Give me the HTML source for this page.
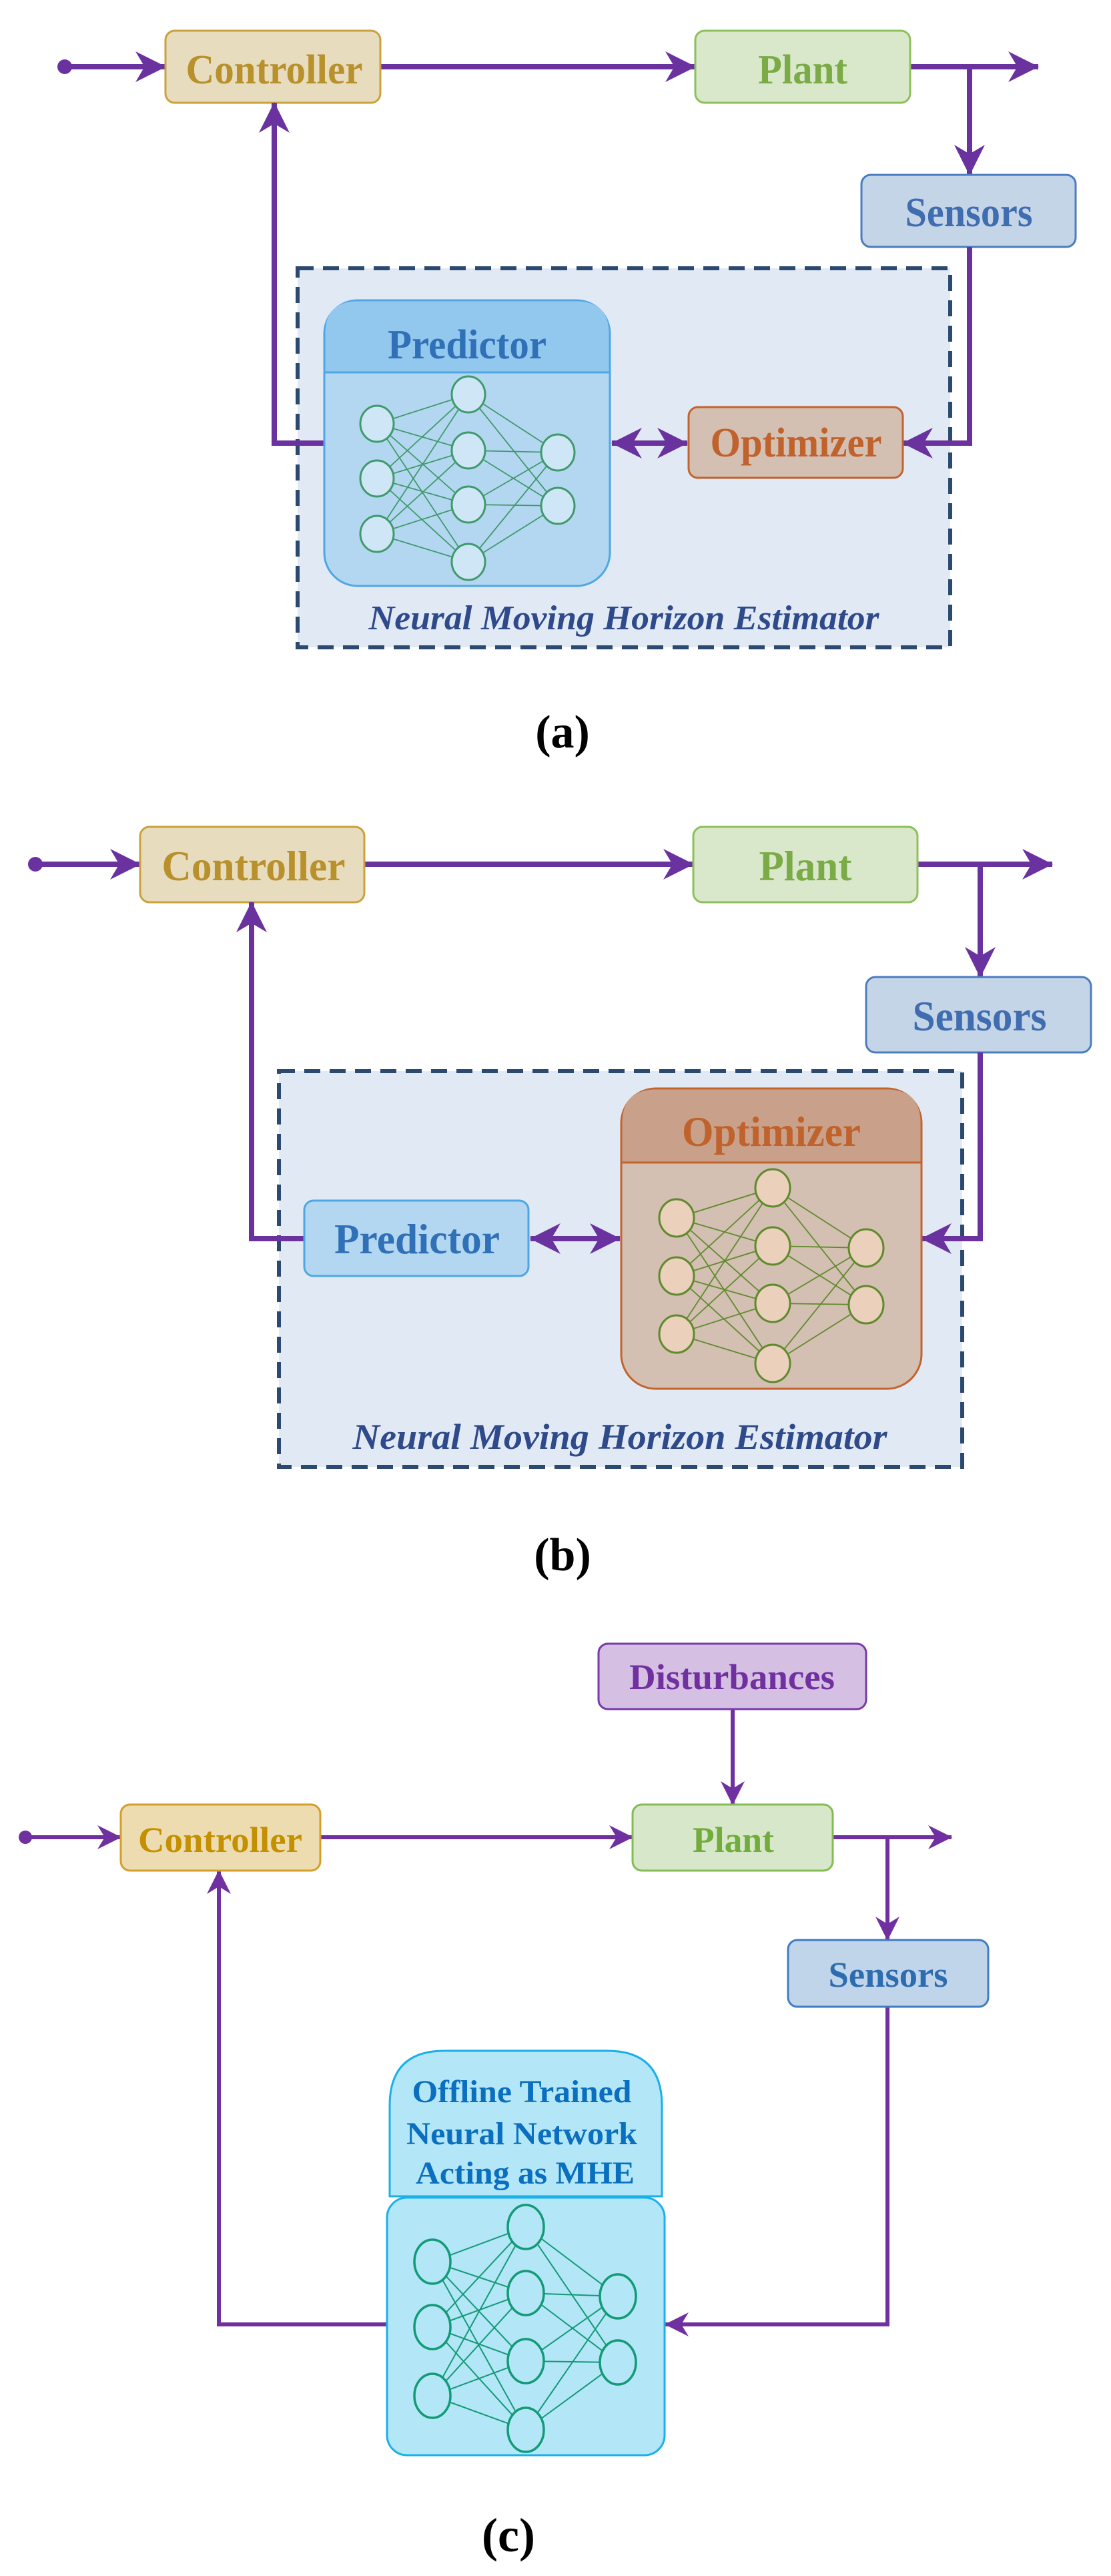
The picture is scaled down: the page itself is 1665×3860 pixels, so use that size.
<!DOCTYPE html>
<html><head><meta charset="utf-8"><style>html,body{margin:0;padding:0;background:#fff}svg{display:block}</style></head>
<body>
<svg width="1665" height="3860" viewBox="0 0 1665 3860" xmlns="http://www.w3.org/2000/svg" font-family="'Liberation Serif',serif" font-weight="bold">
<defs>
<marker id="ar" markerUnits="userSpaceOnUse" markerWidth="46" markerHeight="46" viewBox="0 0 44 44" refX="43" refY="22" orient="auto-start-reverse"><path d="M0,0 L44,22 L0,44 L13,22 Z" fill="#6a329f"/></marker>
<marker id="ar2" markerUnits="userSpaceOnUse" markerWidth="36" markerHeight="36" viewBox="0 0 36 36" refX="35" refY="18" orient="auto-start-reverse"><path d="M0,0 L36,18 L0,36 L11,18 Z" fill="#7030a0"/></marker>
</defs>

<!-- ===== Panel (a) ===== -->
<g stroke="#6a329f" stroke-width="8" fill="none">
<path d="M97,100 H248" marker-end="url(#ar)"/>
<path d="M570,100 H1042" marker-end="url(#ar)"/>
<path d="M1364,100 H1556" marker-end="url(#ar)"/>
<path d="M1453,100 V262" marker-end="url(#ar)"/>
</g>
<circle cx="97" cy="100" r="11" fill="#6a329f"/>
<rect x="248" y="46" width="322" height="108" rx="14" fill="#e8dcbe" stroke="#c9a23c" stroke-width="3"/>
<text x="411" y="125" font-size="62" fill="#b8912c" text-anchor="middle" textLength="265" lengthAdjust="spacingAndGlyphs">Controller</text>
<rect x="1042" y="46" width="322" height="108" rx="14" fill="#d9e8cb" stroke="#8dc05c" stroke-width="3"/>
<text x="1203" y="125" font-size="62" fill="#7aab46" text-anchor="middle" textLength="134" lengthAdjust="spacingAndGlyphs">Plant</text>
<rect x="1291" y="262" width="321" height="108" rx="14" fill="#c5d5e8" stroke="#4a7cc0" stroke-width="3"/>
<text x="1452" y="339" font-size="62" fill="#3f6db0" text-anchor="middle" textLength="191" lengthAdjust="spacingAndGlyphs">Sensors</text>
<rect x="446" y="402" width="978" height="568" fill="#e1eaf4" stroke="#2c4a70" stroke-width="6" stroke-dasharray="24 14"/>
<g stroke="#6a329f" stroke-width="8" fill="none">
<path d="M486,664 H411 V154" marker-end="url(#ar)"/>
<path d="M1453,370 V664 H1353" marker-end="url(#ar)"/>
<path d="M917,664 H1030" marker-start="url(#ar)" marker-end="url(#ar)"/>
</g>
<rect x="486" y="450" width="428" height="428" rx="50" fill="#b4d7f1" stroke="#4ea7e4" stroke-width="3"/>
<path d="M487.5,558 V500 Q487.5,451.5 536,451.5 H864 Q912.5,451.5 912.5,500 V558 Z" fill="#93c8ee"/>
<line x1="486" y1="558" x2="914" y2="558" stroke="#4ea7e4" stroke-width="3"/>
<text x="700" y="537" font-size="62" fill="#2f70b6" text-anchor="middle" textLength="238" lengthAdjust="spacingAndGlyphs">Predictor</text>
<path stroke="#3f9a6c" stroke-width="1.8" fill="none" d="M565,635L702,591M565,635L702,675M565,635L702,756M565,635L702,842M565,717L702,591M565,717L702,675M565,717L702,756M565,717L702,842M565,800L702,591M565,800L702,675M565,800L702,756M565,800L702,842M702,591L836,678M702,591L836,758M702,675L836,678M702,675L836,758M702,756L836,678M702,756L836,758M702,842L836,678M702,842L836,758"/>
<g fill="#cfe6f7" stroke="#3f9a6c" stroke-width="3">
<ellipse cx="565" cy="635" rx="25" ry="27"/><ellipse cx="565" cy="717" rx="25" ry="27"/><ellipse cx="565" cy="800" rx="25" ry="27"/>
<ellipse cx="702" cy="591" rx="25" ry="27"/><ellipse cx="702" cy="675" rx="25" ry="27"/><ellipse cx="702" cy="756" rx="25" ry="27"/><ellipse cx="702" cy="842" rx="25" ry="27"/>
<ellipse cx="836" cy="678" rx="25" ry="27"/><ellipse cx="836" cy="758" rx="25" ry="27"/>
</g>
<rect x="1032" y="610" width="321" height="106" rx="14" fill="#d4bfb3" stroke="#c3642e" stroke-width="3"/>
<text x="1193" y="684" font-size="62" fill="#c0622c" text-anchor="middle" textLength="257" lengthAdjust="spacingAndGlyphs">Optimizer</text>
<text x="935" y="943" font-size="52" font-style="italic" fill="#2f4a8a" text-anchor="middle" textLength="765" lengthAdjust="spacingAndGlyphs">Neural Moving Horizon Estimator</text>
<text x="843" y="1120" font-size="70" fill="#000" text-anchor="middle">(a)</text>

<!-- ===== Panel (b) ===== -->
<g stroke="#6a329f" stroke-width="8" fill="none">
<path d="M53,1295 H210" marker-end="url(#ar)"/>
<path d="M546,1295 H1039" marker-end="url(#ar)"/>
<path d="M1375,1295 H1577" marker-end="url(#ar)"/>
<path d="M1469,1295 V1464" marker-end="url(#ar)"/>
</g>
<circle cx="53" cy="1295" r="11" fill="#6a329f"/>
<rect x="210" y="1239" width="336" height="113" rx="14" fill="#e8dcbe" stroke="#c9a23c" stroke-width="3"/>
<text x="380" y="1319" font-size="64" fill="#b8912c" text-anchor="middle" textLength="275" lengthAdjust="spacingAndGlyphs">Controller</text>
<rect x="1039" y="1239" width="336" height="113" rx="14" fill="#d9e8cb" stroke="#8dc05c" stroke-width="3"/>
<text x="1207" y="1319" font-size="64" fill="#7aab46" text-anchor="middle" textLength="139" lengthAdjust="spacingAndGlyphs">Plant</text>
<rect x="1298" y="1464" width="337" height="113" rx="14" fill="#c5d5e8" stroke="#4a7cc0" stroke-width="3"/>
<text x="1468" y="1544" font-size="64" fill="#3f6db0" text-anchor="middle" textLength="201" lengthAdjust="spacingAndGlyphs">Sensors</text>
<rect x="418" y="1605" width="1024" height="593" fill="#e1eaf4" stroke="#2c4a70" stroke-width="6" stroke-dasharray="24 14"/>
<g stroke="#6a329f" stroke-width="8" fill="none">
<path d="M456,1856 H377 V1352" marker-end="url(#ar)"/>
<path d="M1469,1577 V1856 H1381" marker-end="url(#ar)"/>
<path d="M795,1856 H929" marker-start="url(#ar)" marker-end="url(#ar)"/>
</g>
<rect x="456" y="1799" width="336" height="113" rx="14" fill="#b4d7f1" stroke="#4ea7e4" stroke-width="3"/>
<text x="625" y="1878" font-size="64" fill="#2f70b6" text-anchor="middle" textLength="248" lengthAdjust="spacingAndGlyphs">Predictor</text>
<rect x="931" y="1631" width="450" height="450" rx="52" fill="#d4bfb3" stroke="#c3642e" stroke-width="3"/>
<path d="M932.5,1742 V1683 Q932.5,1632.5 983,1632.5 H1329 Q1379.5,1632.5 1379.5,1683 V1742 Z" fill="#c9a089"/>
<line x1="931" y1="1742" x2="1381" y2="1742" stroke="#c3642e" stroke-width="3"/>
<text x="1156" y="1717" font-size="64" fill="#c0622c" text-anchor="middle" textLength="268" lengthAdjust="spacingAndGlyphs">Optimizer</text>
<path stroke="#5f8a2c" stroke-width="1.8" fill="none" d="M1014,1825L1158,1780M1014,1825L1158,1867M1014,1825L1158,1953M1014,1825L1158,2043M1014,1912L1158,1780M1014,1912L1158,1867M1014,1912L1158,1953M1014,1912L1158,2043M1014,1999L1158,1780M1014,1999L1158,1867M1014,1999L1158,1953M1014,1999L1158,2043M1158,1780L1298,1870M1158,1780L1298,1955M1158,1867L1298,1870M1158,1867L1298,1955M1158,1953L1298,1870M1158,1953L1298,1955M1158,2043L1298,1870M1158,2043L1298,1955"/>
<g fill="#ebd1bc" stroke="#5f8a2c" stroke-width="3">
<ellipse cx="1014" cy="1825" rx="26" ry="28"/><ellipse cx="1014" cy="1912" rx="26" ry="28"/><ellipse cx="1014" cy="1999" rx="26" ry="28"/>
<ellipse cx="1158" cy="1780" rx="26" ry="28"/><ellipse cx="1158" cy="1867" rx="26" ry="28"/><ellipse cx="1158" cy="1953" rx="26" ry="28"/><ellipse cx="1158" cy="2043" rx="26" ry="28"/>
<ellipse cx="1298" cy="1870" rx="26" ry="28"/><ellipse cx="1298" cy="1955" rx="26" ry="28"/>
</g>
<text x="929" y="2171" font-size="54" font-style="italic" fill="#2f4a8a" text-anchor="middle" textLength="801" lengthAdjust="spacingAndGlyphs">Neural Moving Horizon Estimator</text>
<text x="843" y="2353" font-size="70" fill="#000" text-anchor="middle">(b)</text>

<!-- ===== Panel (c) ===== -->
<g stroke="#7030a0" stroke-width="6" fill="none">
<path d="M38,2753 H181" marker-end="url(#ar2)"/>
<path d="M480,2753 H948" marker-end="url(#ar2)"/>
<path d="M1248,2753 H1426" marker-end="url(#ar2)"/>
<path d="M1330,2753 V2907" marker-end="url(#ar2)"/>
<path d="M1098,2561 V2704" marker-end="url(#ar2)"/>
<path d="M580,3483 H328 V2803" marker-end="url(#ar2)"/>
<path d="M1330,3007 V3483 H997" marker-end="url(#ar2)"/>
</g>
<circle cx="38" cy="2753" r="10" fill="#7030a0"/>
<rect x="897" y="2463" width="401" height="98" rx="14" fill="#d5bfe3" stroke="#7a3aaa" stroke-width="3"/>
<text x="1097" y="2531" font-size="54" fill="#7030a0" text-anchor="middle" textLength="308" lengthAdjust="spacingAndGlyphs">Disturbances</text>
<rect x="181" y="2704" width="299" height="99" rx="14" fill="#eddcaf" stroke="#d2a02a" stroke-width="3"/>
<text x="330" y="2775" font-size="54" fill="#c49000" text-anchor="middle" textLength="246" lengthAdjust="spacingAndGlyphs">Controller</text>
<rect x="948" y="2704" width="300" height="99" rx="14" fill="#d6e8c9" stroke="#84bc54" stroke-width="3"/>
<text x="1099" y="2775" font-size="54" fill="#72ac3c" text-anchor="middle" textLength="122" lengthAdjust="spacingAndGlyphs">Plant</text>
<rect x="1181" y="2907" width="300" height="100" rx="14" fill="#c0d5ea" stroke="#3f7cc0" stroke-width="3"/>
<text x="1331" y="2977" font-size="54" fill="#2e6cb0" text-anchor="middle" textLength="179" lengthAdjust="spacingAndGlyphs">Sensors</text>
<path d="M584,3291 V3155 Q584,3073 666,3073 H910 Q992,3073 992,3155 V3291 Z" fill="#b3e6f7" stroke="#1ab0ea" stroke-width="3"/>
<rect x="580" y="3293" width="416" height="386" rx="30" fill="#b3e6f7" stroke="#1ab0ea" stroke-width="3"/>
<g font-size="48" fill="#0a6fbf" text-anchor="middle">
<text x="782" y="3150" textLength="329" lengthAdjust="spacingAndGlyphs">Offline Trained</text>
<text x="782" y="3213" textLength="346" lengthAdjust="spacingAndGlyphs">Neural Network</text>
<text x="787" y="3272" textLength="328" lengthAdjust="spacingAndGlyphs">Acting as MHE</text>
</g>
<path stroke="#139a76" stroke-width="2" fill="none" d="M648,3389L788,3337M648,3389L788,3436M648,3389L788,3538M648,3389L788,3641M648,3487L788,3337M648,3487L788,3436M648,3487L788,3538M648,3487L788,3641M648,3590L788,3337M648,3590L788,3436M648,3590L788,3538M648,3590L788,3641M788,3337L926,3441M788,3337L926,3540M788,3436L926,3441M788,3436L926,3540M788,3538L926,3441M788,3538L926,3540M788,3641L926,3441M788,3641L926,3540"/>
<g fill="#b3e6f7" stroke="#139a76" stroke-width="3.5">
<ellipse cx="648" cy="3389" rx="27" ry="33"/><ellipse cx="648" cy="3487" rx="27" ry="33"/><ellipse cx="648" cy="3590" rx="27" ry="33"/>
<ellipse cx="788" cy="3337" rx="27" ry="33"/><ellipse cx="788" cy="3436" rx="27" ry="33"/><ellipse cx="788" cy="3538" rx="27" ry="33"/><ellipse cx="788" cy="3641" rx="27" ry="33"/>
<ellipse cx="926" cy="3441" rx="27" ry="33"/><ellipse cx="926" cy="3540" rx="27" ry="33"/>
</g>
<text x="762" y="3823" font-size="72" fill="#000" text-anchor="middle">(c)</text>
</svg>
</body></html>
